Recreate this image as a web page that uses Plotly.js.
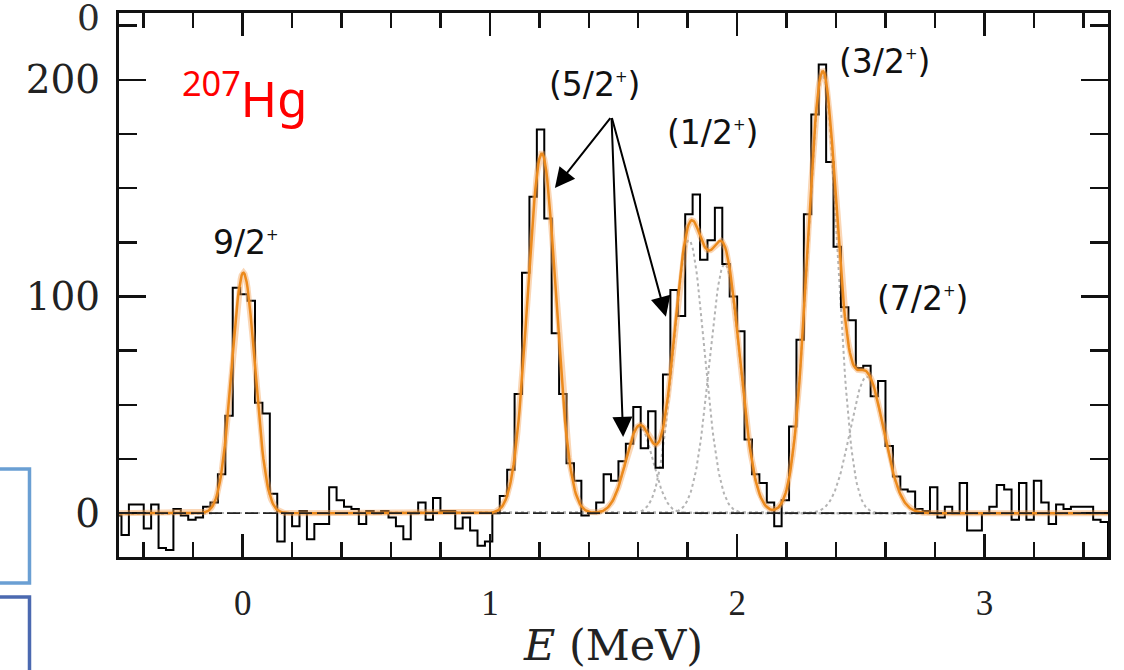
<!DOCTYPE html>
<html>
<head>
<meta charset="utf-8">
<script src="https://cdn.plot.ly/plotly-3.0.1.min.js"></script>
<style>
  html, body { margin: 0; padding: 0; background: #ffffff; }
  #chart { width: 1124px; height: 670px; }
</style>
</head>
<body>
<div id="chart"></div>
<script>
// 207Hg excitation-energy spectrum: binned counts with a multi-Gaussian fit.

// Histogram binning (MeV)
const binStart = -0.52;
const binWidth = 0.03;

// Counts per bin, starting at binStart
const counts = [
  -1, -10, 4, 4, -7, 4, -16, -17, 2, -1,
  -3, -2, 3, 5, 18, 45, 104, 101, 98, 51,
  46, 9, -13, 0, -6, 1, -12, -5, -5, 12,
  6, 3, 2, -5, 1, 0, 1, -2, -6, -12,
  0, 5, -3, 7, 1, 1, -7, -2, -8, -15,
  -13, 0, 8, 20, 55, 111, 146, 177, 136, 83,
  55, 23, 15, -1, 0, 5, 18, 15, 24, 32,
  49, 30, 47, 21, 64, 103, 91, 138, 147, 117,
  126, 141, 115, 100, 84, 34, 18, 14, 5, -6,
  6, 40, 80, 138, 184, 207, 162, 123, 95, 89,
  67, 68, 54, 61, 31, 17, 11, 10, 2, 1,
  12, -2, 3, 0, 14, -8, -8, 0, 3, 13,
  11, -3, 14, -3, 15, 5, -5, 4, 2, 3,
  3, 3, -3, -4, -25
];

// Fitted peaks: centroid (MeV), height (counts), width sigma (MeV)
const peakCentroid = [0.003, 1.21, 1.605, 1.805, 1.95, 2.345, 2.525];
const peakHeight   = [111,   166,  40,    126,   115,  202,   63];
const peakSigma    = [0.047, 0.057, 0.055, 0.062, 0.062, 0.060, 0.068];
// Components drawn individually as dotted curves
const peakShowComponent = [false, false, true, true, true, true, true];

// Level assignments
const levelText = ['9/2', '(5/2', '(1/2', '(3/2', '(7/2'];
const levelE    = [0.015, 1.425, 1.899, 2.598, 2.748];
const levelY    = [125, 197.7, 175.5, 208.3, 99.3];

// ---- derived series ----
const binCenters = counts.map((_, i) => binStart + binWidth * (i + 0.5));

const fitE = [];
for (let e = -0.5; e <= 3.5001; e += 0.004) fitE.push(+e.toFixed(4));

function gauss(e, k) {
  const d = (e - peakCentroid[k]) / peakSigma[k];
  return peakHeight[k] * Math.exp(-0.5 * d * d);
}
const fitTotal = fitE.map(e => peakCentroid.reduce((s, _, k) => s + gauss(e, k), 0));

const traces = [];

peakCentroid.forEach((_, k) => {
  if (!peakShowComponent[k]) return;
  traces.push({
    x: fitE, y: fitE.map(e => gauss(e, k)),
    type: 'scatter', mode: 'lines',
    line: { color: '#b4b4b4', width: 2, dash: 'dot' },
    hoverinfo: 'skip'
  });
});

traces.push({
  x: binCenters, y: counts,
  type: 'scatter', mode: 'lines',
  line: { color: '#000000', width: 2, shape: 'hvh' },
  hoverinfo: 'skip'
});

traces.push({
  x: fitE, y: fitTotal,
  type: 'scatter', mode: 'lines',
  line: { color: 'rgba(244,165,90,0.45)', width: 6 },
  hoverinfo: 'skip'
});
traces.push({
  x: fitE, y: fitTotal,
  type: 'scatter', mode: 'lines',
  line: { color: '#ec8a1c', width: 2.5 },
  hoverinfo: 'skip'
});

const labelFont = { family: 'DejaVu Sans, Noto Sans, sans-serif', size: 33, color: '#111111' };
const plusSup = '<sup><span style="font-size:15px">+</span></sup>';

const annotations = levelText.map((t, i) => ({
  x: levelE[i], y: levelY[i], xref: 'x', yref: 'y',
  text: t + plusSup + (t.startsWith('(') ? ')' : ''),
  showarrow: false, font: labelFont,
  xanchor: 'center', yanchor: 'middle'
}));

// nucleus label
annotations.push({
  x: -0.2535, y: 193, xref: 'x', yref: 'y',
  text: '<sup>207</sup>Hg', showarrow: false,
  font: { family: 'Noto Sans, sans-serif', size: 49, color: '#ff0000' },
  xanchor: 'left', yanchor: 'middle'
});

// arrows from the (5/2+) label to its three candidate peaks
const arrowTail = [1.492, 183];
const arrowTips = [[1.263, 150], [1.539, 35.2], [1.712, 90.7]];
arrowTips.forEach(tip => {
  annotations.push({
    x: tip[0], y: tip[1], xref: 'x', yref: 'y',
    ax: arrowTail[0], ay: arrowTail[1], axref: 'x', ayref: 'y',
    text: '', showarrow: true, arrowhead: 2, arrowsize: 2,
    arrowwidth: 2, arrowcolor: '#000000', standoff: 0, startstandoff: 0
  });
});

// clipped tick glyph at the upper-left corner
annotations.push({
  x: -0.031, y: 0.9925, xref: 'paper', yref: 'paper',
  text: '0', showarrow: false,
  font: { family: 'DejaVu Serif, serif', size: 36, color: '#2a2a2a' },
  xanchor: 'center', yanchor: 'middle'
});

const shapes = [
  { type: 'line', xref: 'paper', x0: 0, x1: 1, yref: 'y', y0: 0, y1: 0,
    line: { color: '#222222', width: 1.8, dash: '13px,5px' }, layer: 'above' },
  { type: 'rect', xref: 'paper', yref: 'paper',
    x0: -0.14, x1: -0.0905, y0: -0.0478, y1: 0.1618,
    line: { color: '#6a9fd3', width: 3.5 }, fillcolor: 'rgba(0,0,0,0)' },
  { type: 'rect', xref: 'paper', yref: 'paper',
    x0: -0.14, x1: -0.0905, y0: -0.30, y1: -0.0735,
    line: { color: '#4b69b0', width: 3.5 }, fillcolor: 'rgba(0,0,0,0)' }
];

const axisCommon = {
  showline: true, linewidth: 3, linecolor: '#111111', mirror: 'ticks',
  ticks: 'inside', tickwidth: 2.5, tickcolor: '#111111',
  showgrid: false, zeroline: false, fixedrange: true
};

const layout = {
  width: 1124, height: 670,
  margin: { l: 119, r: 16, t: 13, b: 113 },
  paper_bgcolor: '#ffffff', plot_bgcolor: '#ffffff',
  showlegend: false,
  xaxis: Object.assign({}, axisCommon, {
    range: [-0.5, 3.5], tick0: 0, dtick: 1, ticklen: 23,
    minor: { dtick: 0.2, ticks: 'inside', ticklen: 15, tickwidth: 2.5, tickcolor: '#111111' },
    tickfont: { family: 'Liberation Serif, serif', size: 35, color: '#222222' },
    ticklabelstandoff: 13,
    title: { text: '<i>E</i> (MeV)', standoff: 27,
             font: { family: 'DejaVu Serif, serif', size: 43, color: '#222222' } }
  }),
  yaxis: Object.assign({}, axisCommon, {
    range: [-20.2, 230.8], tick0: 0, dtick: 100, ticklen: 27,
    minor: { dtick: 25, ticks: 'inside', ticklen: 18, tickwidth: 2.5, tickcolor: '#111111' },
    tickfont: { family: 'DejaVu Serif, serif', size: 39, color: '#222222' },
    ticklabelstandoff: 8
  }),
  shapes: shapes,
  annotations: annotations
};

Plotly.newPlot('chart', traces, layout, { displayModeBar: false, staticPlot: true });
</script>
</body>
</html>
